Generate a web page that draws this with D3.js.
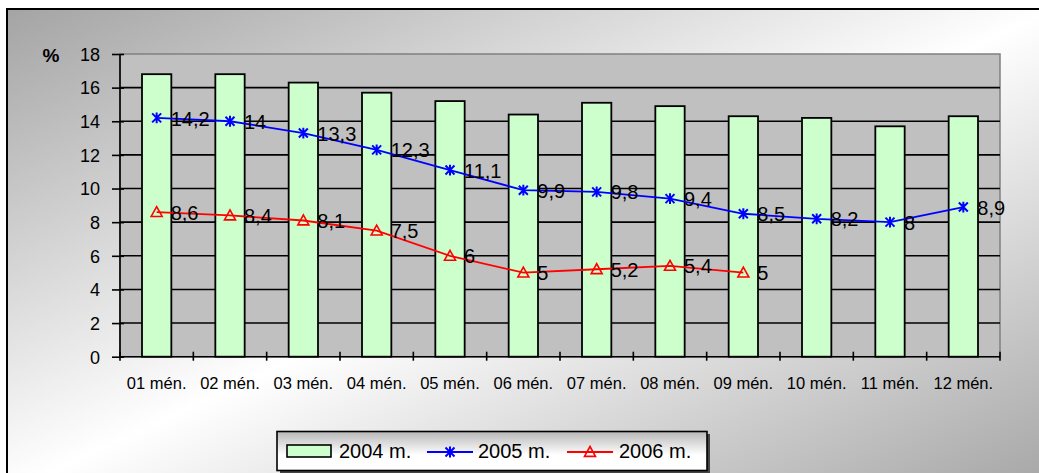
<!DOCTYPE html>
<html>
<head>
<meta charset="utf-8">
<script src="https://cdn.jsdelivr.net/npm/d3@7"></script>
<style>
body { margin: 0; background: #fff; }
svg { display: block; font-family: "Liberation Sans", Arial, sans-serif; }
</style>
</head>
<body>
<div id="chart"></div>
<script>
var months = ["01 mén.", "02 mén.", "03 mén.", "04 mén.", "05 mén.", "06 mén.",
              "07 mén.", "08 mén.", "09 mén.", "10 mén.", "11 mén.", "12 mén."];
var y2004 = [16.8, 16.8, 16.3, 15.7, 15.2, 14.4, 15.1, 14.9, 14.3, 14.2, 13.7, 14.3];
var y2005 = [14.2, 14, 13.3, 12.3, 11.1, 9.9, 9.8, 9.4, 8.5, 8.2, 8, 8.9];
var y2006 = [8.6, 8.4, 8.1, 7.5, 6, 5, 5.2, 5.4, 5];
var yTicks = [0, 2, 4, 6, 8, 10, 12, 14, 16, 18];
var seriesNames = ["2004 m.", "2005 m.", "2006 m."];

var W = 1039, H = 473;
var plot = {left: 120, right: 1000, top: 54, bottom: 356.7};

var svg = d3.select('#chart').append('svg')
	.attr('width', W)
	.attr('height', H);

var defs = svg.append('defs');
var bg = defs.append('linearGradient').attr('id', 'bg')
	.attr('x1', 0).attr('y1', 0).attr('x2', 1).attr('y2', 1);
bg.append('stop').attr('offset', '0%').attr('stop-color', '#a4a4a4');
bg.append('stop').attr('offset', '50%').attr('stop-color', '#ffffff');
bg.append('stop').attr('offset', '100%').attr('stop-color', '#a4a4a4');

var lg = defs.append('linearGradient').attr('id', 'lg')
	.attr('x1', 0).attr('y1', 0).attr('x2', 0).attr('y2', 1);
lg.append('stop').attr('offset', '0%').attr('stop-color', '#b8b8b8');
lg.append('stop').attr('offset', '60%').attr('stop-color', '#ffffff');
lg.append('stop').attr('offset', '100%').attr('stop-color', '#ffffff');

// outer frame
svg.append('rect')
	.attr('x', 7).attr('y', 9)
	.attr('width', W + 10).attr('height', H + 10)
	.style('fill', 'url(#bg)')
	.style('stroke', '#000')
	.style('stroke-width', 2);

var x = d3.scaleBand()
	.domain(months)
	.range([plot.left, plot.right])
	.paddingInner(0.6)
	.paddingOuter(0.3);

var y = d3.scaleLinear()
	.domain([0, 18])
	.range([plot.bottom, plot.top]);

var cx = function(i) { return x(months[i]) + x.bandwidth() / 2; };

// plot area
svg.append('rect')
	.attr('x', plot.left).attr('y', plot.top)
	.attr('width', plot.right - plot.left).attr('height', plot.bottom - plot.top)
	.style('fill', '#c0c0c0')
	.style('stroke', '#808080')
	.style('stroke-width', 1.5);

// gridlines
svg.append('g').selectAll('line')
	.data(yTicks.filter(function(d) { return d > 0 && d < 18; }))
	.enter().append('line')
	.attr('x1', plot.left).attr('x2', plot.right)
	.attr('y1', function(d) { return y(d); })
	.attr('y2', function(d) { return y(d); })
	.style('stroke', '#000')
	.style('stroke-width', 1.6);

// bars 2004
svg.append('g').selectAll('rect')
	.data(y2004)
	.enter().append('rect')
	.attr('x', function(d, i) { return x(months[i]); })
	.attr('y', function(d) { return y(d); })
	.attr('width', x.bandwidth())
	.attr('height', function(d) { return y(0) - y(d); })
	.style('fill', '#ccffcc')
	.style('stroke', '#000')
	.style('stroke-width', 1.8);

// y axis
var yAxis = d3.axisLeft(y).tickValues(yTicks).tickSize(8).tickPadding(12);
var yg = svg.append('g')
	.attr('transform', 'translate(' + plot.left + ',0)')
	.call(yAxis);
yg.select('.domain').attr('d', 'M0,' + plot.top + 'V' + plot.bottom).style('stroke-width', 1.6);
yg.selectAll('.tick line').attr('x2', -8).attr('x1', 4).style('stroke-width', 1.6);
yg.selectAll('text').style('font-size', '18px').style('fill', '#000').attr('dy', '0.35em');

// x axis line with ticks at category boundaries
var xg = svg.append('g');
xg.append('line')
	.attr('x1', plot.left).attr('x2', plot.right)
	.attr('y1', y(0)).attr('y2', y(0))
	.style('stroke', '#000').style('stroke-width', 1.6);
xg.selectAll('.xt')
	.data(d3.range(months.length + 1))
	.enter().append('line')
	.attr('x1', function(i) { return plot.left + i * x.step(); })
	.attr('x2', function(i) { return plot.left + i * x.step(); })
	.attr('y1', y(0) - 5).attr('y2', y(0) + 4)
	.style('stroke', '#000').style('stroke-width', 1.6);
xg.selectAll('text')
	.data(months)
	.enter().append('text')
	.attr('x', function(d, i) { return cx(i); })
	.attr('y', 389)
	.attr('text-anchor', 'middle')
	.style('font-size', '16.5px')
	.text(function(d) { return d; });

// percent sign
svg.append('text')
	.attr('x', 51).attr('y', 62)
	.attr('text-anchor', 'middle')
	.style('font-size', '19px')
	.style('font-weight', 'bold')
	.text('%');

var line = d3.line()
	.x(function(d, i) { return cx(i); })
	.y(function(d) { return y(d); });

function starMarker(g, s) {
	g.append('path')
		.attr('d', 'M' + (-s) + ',' + (-s) + 'L' + s + ',' + s + 'M' + (-s) + ',' + s + 'L' + s + ',' + (-s) +
			'M0,' + (-s * 1.2) + 'V' + (s * 1.2))
		.style('stroke', '#0000ff').style('stroke-width', 2).style('fill', 'none');
}
function triMarker(g, s) {
	g.append('path')
		.attr('d', 'M0,' + (-s) + 'L' + s + ',' + (s * 0.8) + 'L' + (-s) + ',' + (s * 0.8) + 'Z')
		.style('stroke', '#ff0000').style('stroke-width', 1.6).style('fill', 'none');
}

// 2005 series
svg.append('path')
	.datum(y2005)
	.attr('d', line)
	.style('fill', 'none').style('stroke', '#0000ff').style('stroke-width', 1.8);
svg.append('g').selectAll('g')
	.data(y2005)
	.enter().append('g')
	.attr('transform', function(d, i) { return 'translate(' + cx(i) + ',' + y(d) + ')'; })
	.each(function() { starMarker(d3.select(this), 4.5); });

// 2006 series
svg.append('path')
	.datum(y2006)
	.attr('d', line)
	.style('fill', 'none').style('stroke', '#ff0000').style('stroke-width', 1.8);
svg.append('g').selectAll('g')
	.data(y2006)
	.enter().append('g')
	.attr('transform', function(d, i) { return 'translate(' + cx(i) + ',' + y(d) + ')'; })
	.each(function() { triMarker(d3.select(this), 5.5); });

// data labels
var fmt = function(d) { return String(d).replace('.', ','); };
[y2005, y2006].forEach(function(ser) {
	svg.append('g').selectAll('text')
		.data(ser)
		.enter().append('text')
		.attr('x', function(d, i) { return cx(i) + 14; })
		.attr('y', function(d) { return y(d); })
		.attr('dy', '0.38em')
		.style('font-size', '20px')
		.style('fill', '#000')
		.text(fmt);
});

// legend
var leg = svg.append('g');
leg.append('rect')
	.attr('x', 280).attr('y', 434).attr('width', 430).attr('height', 40)
	.style('fill', '#444');
leg.append('rect')
	.attr('x', 277).attr('y', 431.5).attr('width', 430).attr('height', 39)
	.style('fill', 'url(#lg)')
	.style('stroke', '#000').style('stroke-width', 1.6);
leg.append('rect')
	.attr('x', 287).attr('y', 445).attr('width', 44).attr('height', 12)
	.style('fill', '#ccffcc').style('stroke', '#000').style('stroke-width', 1.6);
leg.append('line').attr('x1', 427).attr('x2', 473).attr('y1', 452).attr('y2', 452)
	.style('stroke', '#0000ff').style('stroke-width', 1.8);
starMarker(leg.append('g').attr('transform', 'translate(450,452)'), 4.5);
leg.append('line').attr('x1', 567).attr('x2', 613).attr('y1', 452).attr('y2', 452)
	.style('stroke', '#ff0000').style('stroke-width', 1.8);
triMarker(leg.append('g').attr('transform', 'translate(590,452)'), 5.5);
leg.selectAll('text')
	.data(seriesNames)
	.enter().append('text')
	.attr('x', function(d, i) { return [339, 478, 619][i]; })
	.attr('y', 458)
	.style('font-size', '20px')
	.text(function(d) { return d; });
</script>
</body>
</html>
